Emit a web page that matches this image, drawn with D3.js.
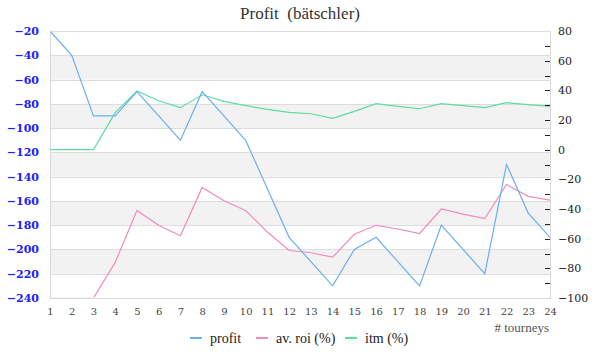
<!DOCTYPE html>
<html>
<head>
<meta charset="utf-8">
<script src="https://cdn.jsdelivr.net/npm/d3@7/dist/d3.min.js"></script>
<style>
  html, body { margin: 0; padding: 0; background: #fff; }
  svg { display: block; }
</style>
</head>
<body>
<svg id="chart" width="600" height="360"></svg>
<script>
const titleText = "Profit  (bätschler)";
const xTitle = "# tourneys";
const tourneys = d3.range(1, 25);
const profit = [-20, -40, -90, -90, -70, -90, -110, -70, -90, -110, -150, -190,
                -210, -230, -200, -190, -210, -230, -180, -200, -220, -130, -170, -190];
const avRoi = [-100, -100, -100, -76, -41, -51, -58, -25.5, -34.5, -41, -55.5, -68,
               -69.5, -72.5, -57, -51, -53.5, -56.5, -40, -43.5, -46.5, -23.5, -31.5, -34];
const itm = [0, 0, 0, 25, 39.5, 33, 28.3, 37, 32.6, 29.7, 27.2, 25.2,
             24.2, 21.1, 25.8, 31, 29.2, 27.6, 31, 29.7, 28.3, 31.7, 30.3, 29.2];
const leftTicks = [-20, -40, -60, -80, -100, -120, -140, -160, -180, -200, -220, -240];
const rightTicks = [80, 60, 40, 20, 0, -20, -40, -60, -80, -100];
const seriesNames = ["profit", "av. roi (%)", "itm (%)"];
const seriesColors = ["#6aaff0", "#f38abf", "#5cdea3"];

const svg = d3.select("#chart");
const margin = {left: 50, right: 50, top: 31, bottom: 62};
const W = 600, H = 360;
const x0 = margin.left, x1 = W - margin.right;
const y0 = margin.top, y1 = H - margin.bottom;

const x = d3.scaleLinear().domain([1, 24]).range([x0, x1]);
const yL = d3.scaleLinear().domain([-240, -20]).range([y1, y0]);
const yR = d3.scaleLinear().domain([-100, 80]).range([y1, y0]);

const serif = "'Liberation Serif', 'DejaVu Serif', serif";

// Alternating bands
const bands = [];
for (let v = -40; v > -240; v -= 40) bands.push([v, v - 20]);
svg.append("g").selectAll("rect").data(bands).join("rect")
  .attr("x", x0).attr("width", x1 - x0)
  .attr("y", d => yL(d[0])).attr("height", d => yL(d[1]) - yL(d[0]))
  .attr("fill", "#f2f2f2");

// Grid lines
svg.append("g").selectAll("line").data(leftTicks).join("line")
  .attr("x1", x0).attr("x2", x1)
  .attr("y1", d => Math.round(yL(d)) + 0.5).attr("y2", d => Math.round(yL(d)) + 0.5)
  .attr("stroke", "#dddddd").attr("stroke-width", 1);

// Clip
svg.append("clipPath").attr("id", "clip").append("rect")
  .attr("x", x0).attr("y", y0 - 1).attr("width", x1 - x0).attr("height", y1 - y0 + 0.3);

const lineL = d3.line().x((d, i) => x(tourneys[i])).y(d => yL(d));
const lineR = d3.line().x((d, i) => x(tourneys[i])).y(d => yR(d));

const gS = svg.append("g").attr("clip-path", "url(#clip)");
gS.append("path").datum(itm).attr("d", lineR).attr("fill", "none")
  .attr("stroke", seriesColors[2]).attr("stroke-width", 1.2);
gS.append("path").datum(avRoi).attr("d", lineR).attr("fill", "none")
  .attr("stroke", seriesColors[1]).attr("stroke-width", 1.2);
gS.append("path").datum(profit).attr("d", lineL).attr("fill", "none")
  .attr("stroke", seriesColors[0]).attr("stroke-width", 1.2);

// Plot border lines (left, bottom, right)
svg.append("line").attr("x1", x0 + 0.5).attr("x2", x0 + 0.5).attr("y1", y0).attr("y2", y1)
  .attr("stroke", "#d8d8d8");
svg.append("line").attr("x1", x0).attr("x2", x1 + 1).attr("y1", y1 + 0.5).attr("y2", y1 + 0.5)
  .attr("stroke", "#d8d8d8");
svg.append("line").attr("x1", x1 + 0.5).attr("x2", x1 + 0.5).attr("y1", y0).attr("y2", y1)
  .attr("stroke", "#d8d8d8");

// Left axis labels
const axL = d3.axisLeft(yL).tickValues(leftTicks).tickSize(0).tickPadding(11);
const gL = svg.append("g").attr("transform", `translate(${x0},0)`).call(axL);
gL.select(".domain").remove();
gL.selectAll("text").attr("fill", "#2020ff")
  .style("font-family", "'DejaVu Serif', serif").style("font-size", "11px")
  .style("font-weight", "bold")
  .attr("dy", "0.32em");

// Right axis with minor ticks
const minor = d3.range(-90, 80, 10);
svg.append("g").selectAll("line").data(minor).join("line")
  .attr("x1", x1 - 5).attr("x2", x1)
  .attr("y1", d => Math.round(yR(d)) + 0.5).attr("y2", d => Math.round(yR(d)) + 0.5)
  .attr("stroke", "#222").attr("stroke-width", 1);
const axR = d3.axisRight(yR).tickValues(rightTicks).tickSize(0).tickPadding(8);
const gR = svg.append("g").attr("transform", `translate(${x1},0)`).call(axR);
gR.select(".domain").remove();
gR.selectAll("text").attr("fill", "#222")
  .style("font-family", "'DejaVu Serif', serif").style("font-size", "11px");

// X axis labels
const axX = d3.axisBottom(x).tickValues(tourneys).tickFormat(d3.format("d")).tickSize(0).tickPadding(10);
const gX = svg.append("g").attr("transform", `translate(0,${y1})`).call(axX);
gX.select(".domain").remove();
gX.selectAll("text").attr("fill", "#444")
  .style("font-family", "'DejaVu Serif', serif").style("font-size", "10px");

// X title
svg.append("text").attr("x", x1 - 1).attr("y", 332).attr("text-anchor", "end")
  .attr("fill", "#555").style("font-family", serif).style("font-size", "13px")
  .text(xTitle);

// Title
svg.append("text").attr("x", 300).attr("y", 19).attr("text-anchor", "middle")
  .attr("fill", "#333").style("font-family", serif).style("font-size", "17px")
  .style("white-space", "pre")
  .text(titleText);

// Legend
const legendX = [190, 256, 345];
const lg = svg.append("g").selectAll("g").data(seriesNames).join("g")
  .attr("transform", (d, i) => `translate(${legendX[i]},338)`);
lg.append("line").attr("x1", 0).attr("x2", 12).attr("y1", 0).attr("y2", 0)
  .attr("stroke", (d, i) => seriesColors[i]).attr("stroke-width", 2);
lg.append("text").attr("x", 20).attr("y", 4.5)
  .attr("fill", "#222").style("font-family", serif).style("font-size", "14px")
  .text(d => d);
</script>
</body>
</html>
